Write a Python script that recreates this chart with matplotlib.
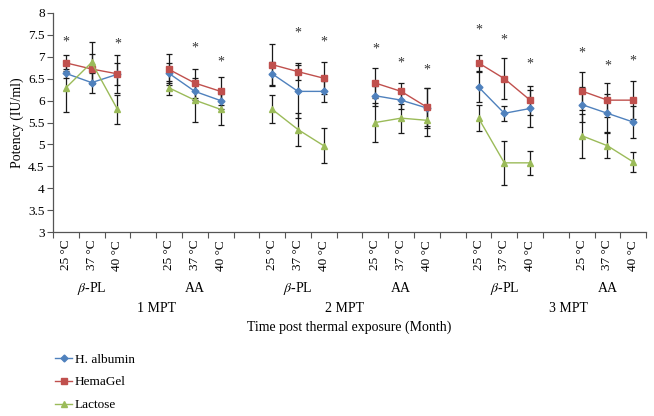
import numpy as np
import matplotlib
matplotlib.use("Agg")
import matplotlib.pyplot as plt
import matplotlib.transforms as mtransforms

plt.rcParams['font.family'] = ['Liberation Serif', 'DejaVu Serif']
plt.rcParams['mathtext.fontset'] = 'stix'
plt.rcParams['font.size'] = 9.5

# values, 6 groups x 3 temperatures
temps = ['25 °C', '37 °C', '40 °C']
groups = ['$\\beta$-PL', 'AA', '$\\beta$-PL', 'AA', '$\\beta$-PL', 'AA']
months = ['1 MPT', '2 MPT', '3 MPT']

albumin = [6.62, 6.41, 6.60, 6.62, 6.21, 6.00, 6.61, 6.21, 6.21,
           6.11, 6.01, 5.83, 6.31, 5.71, 5.82, 5.91, 5.71, 5.51]
albumin_err = [0.10, 0.23, 0.25, 0.23, 0.20, 0.20, 0.27, 0.60, 0.24,
               0.23, 0.20, 0.45, 0.35, 0.17, 0.43, 0.39, 0.43, 0.37]
hemagel = [6.86, 6.72, 6.61, 6.71, 6.40, 6.21, 6.82, 6.66, 6.51,
           6.40, 6.21, 5.85, 6.86, 6.50, 6.01, 6.22, 6.01, 6.01]
hemagel_err = [0.18, 0.34, 0.43, 0.35, 0.33, 0.32, 0.46, 0.20, 0.36,
               0.34, 0.20, 0.43, 0.19, 0.47, 0.33, 0.44, 0.38, 0.44]
lactose = [6.29, 6.87, 5.80, 6.29, 6.01, 5.80, 5.80, 5.34, 4.97,
           5.50, 5.60, 5.55, 5.60, 4.58, 4.58, 5.20, 4.97, 4.60]
lactose_err = [0.55, 0.46, 0.33, 0.16, 0.50, 0.35, 0.32, 0.37, 0.40,
               0.45, 0.33, 0.35, 0.29, 0.50, 0.27, 0.50, 0.28, 0.22]
# asterisk heights (nan = no asterisk)
stars = [7.33, np.nan, 7.28, np.nan, 7.19, 6.88, np.nan, 7.54, 7.33,
         7.18, 6.85, 6.70, 7.61, 7.37, 6.83, 7.08, 6.79, 6.90]

series = [
    ('H. albumin', albumin, albumin_err, '#4F81BD', 'D', 3.5),
    ('HemaGel', hemagel, hemagel_err, '#C0504D', 's', 5),
    ('Lactose', lactose, lactose_err, '#9BBB59', '^', 5),
]

fig = plt.figure(figsize=(6.54, 4.16), dpi=100)
ax = fig.add_axes([0.081, 0.442, 0.907, 0.527])

n_groups = len(groups)
n_cat = n_groups * 4 - 1
xpos = np.array([g * 4 + i for g in range(n_groups) for i in range(3)])

# error bars first (black), lines on top
for name, vals, errs, col, mk, ms in series:
    ax.errorbar(xpos, np.array(vals), yerr=np.array(errs), fmt='none', ecolor='#1a1a1a',
                elinewidth=0.9, capsize=2.2, capthick=0.9, zorder=2)
for name, vals, errs, col, mk, ms in series:
    vals = np.array(vals)
    for g in range(n_groups):
        sl = slice(g * 3, g * 3 + 3)
        ax.plot(xpos[sl], vals[sl], color=col, marker=mk, markersize=ms,
                linewidth=1.0, zorder=3, label=name if g == 0 else None)

for x, s in zip(xpos, stars):
    if not np.isnan(s):
        ax.text(x, s, '*', ha='center', va='center', fontsize=10, color='#333333')

ax.set_xlim(-0.5, n_cat - 0.5)
ax.set_ylim(3, 8)
ax.set_yticks(np.arange(3, 8.01, 0.5))
ax.set_yticklabels(['3', '3.5', '4', '4.5', '5', '5.5', '6', '6.5', '7', '7.5', '8'])
ax.set_ylabel('Potency (IU/ml)', fontsize=10, labelpad=3)

# category boundary ticks on x axis
ax.set_xticks(np.arange(-0.5, n_cat, 1.0))
ax.set_xticklabels([])
ax.tick_params(axis='x', direction='out', length=4, width=0.8, color='#555555')
ax.tick_params(axis='y', direction='out', length=4, width=0.8, color='#555555', pad=2)
for sp in ['top', 'right']:
    ax.spines[sp].set_visible(False)
for sp in ['left', 'bottom']:
    ax.spines[sp].set_color('#555555')
    ax.spines[sp].set_linewidth(0.9)

trans = mtransforms.blended_transform_factory(ax.transData, ax.transAxes)
for x, t in zip(xpos, temps * n_groups):
    ax.text(x, -0.035, t, rotation=90, ha='center', va='top', transform=trans)
for g, lab in enumerate(groups):
    ax.text(g * 4 + 1, -0.256, lab, ha='center', va='center', transform=trans, fontsize=10)
mpt_x = [3.5, 10.8, 19.5]
for x, lab in zip(mpt_x, months):
    ax.text(x, -0.347, lab, ha='center', va='center', transform=trans, fontsize=10)
ax.text(0.5, -0.434, 'Time post thermal exposure (Month)', ha='center', va='center',
        transform=ax.transAxes, fontsize=10)

fig.legend(loc='upper left', bbox_to_anchor=(0.066, 0.179), frameon=False,
           handlelength=1.3, handletextpad=0.2, labelspacing=0.8, fontsize=9.5)

fig.savefig('out.png', dpi=100)
